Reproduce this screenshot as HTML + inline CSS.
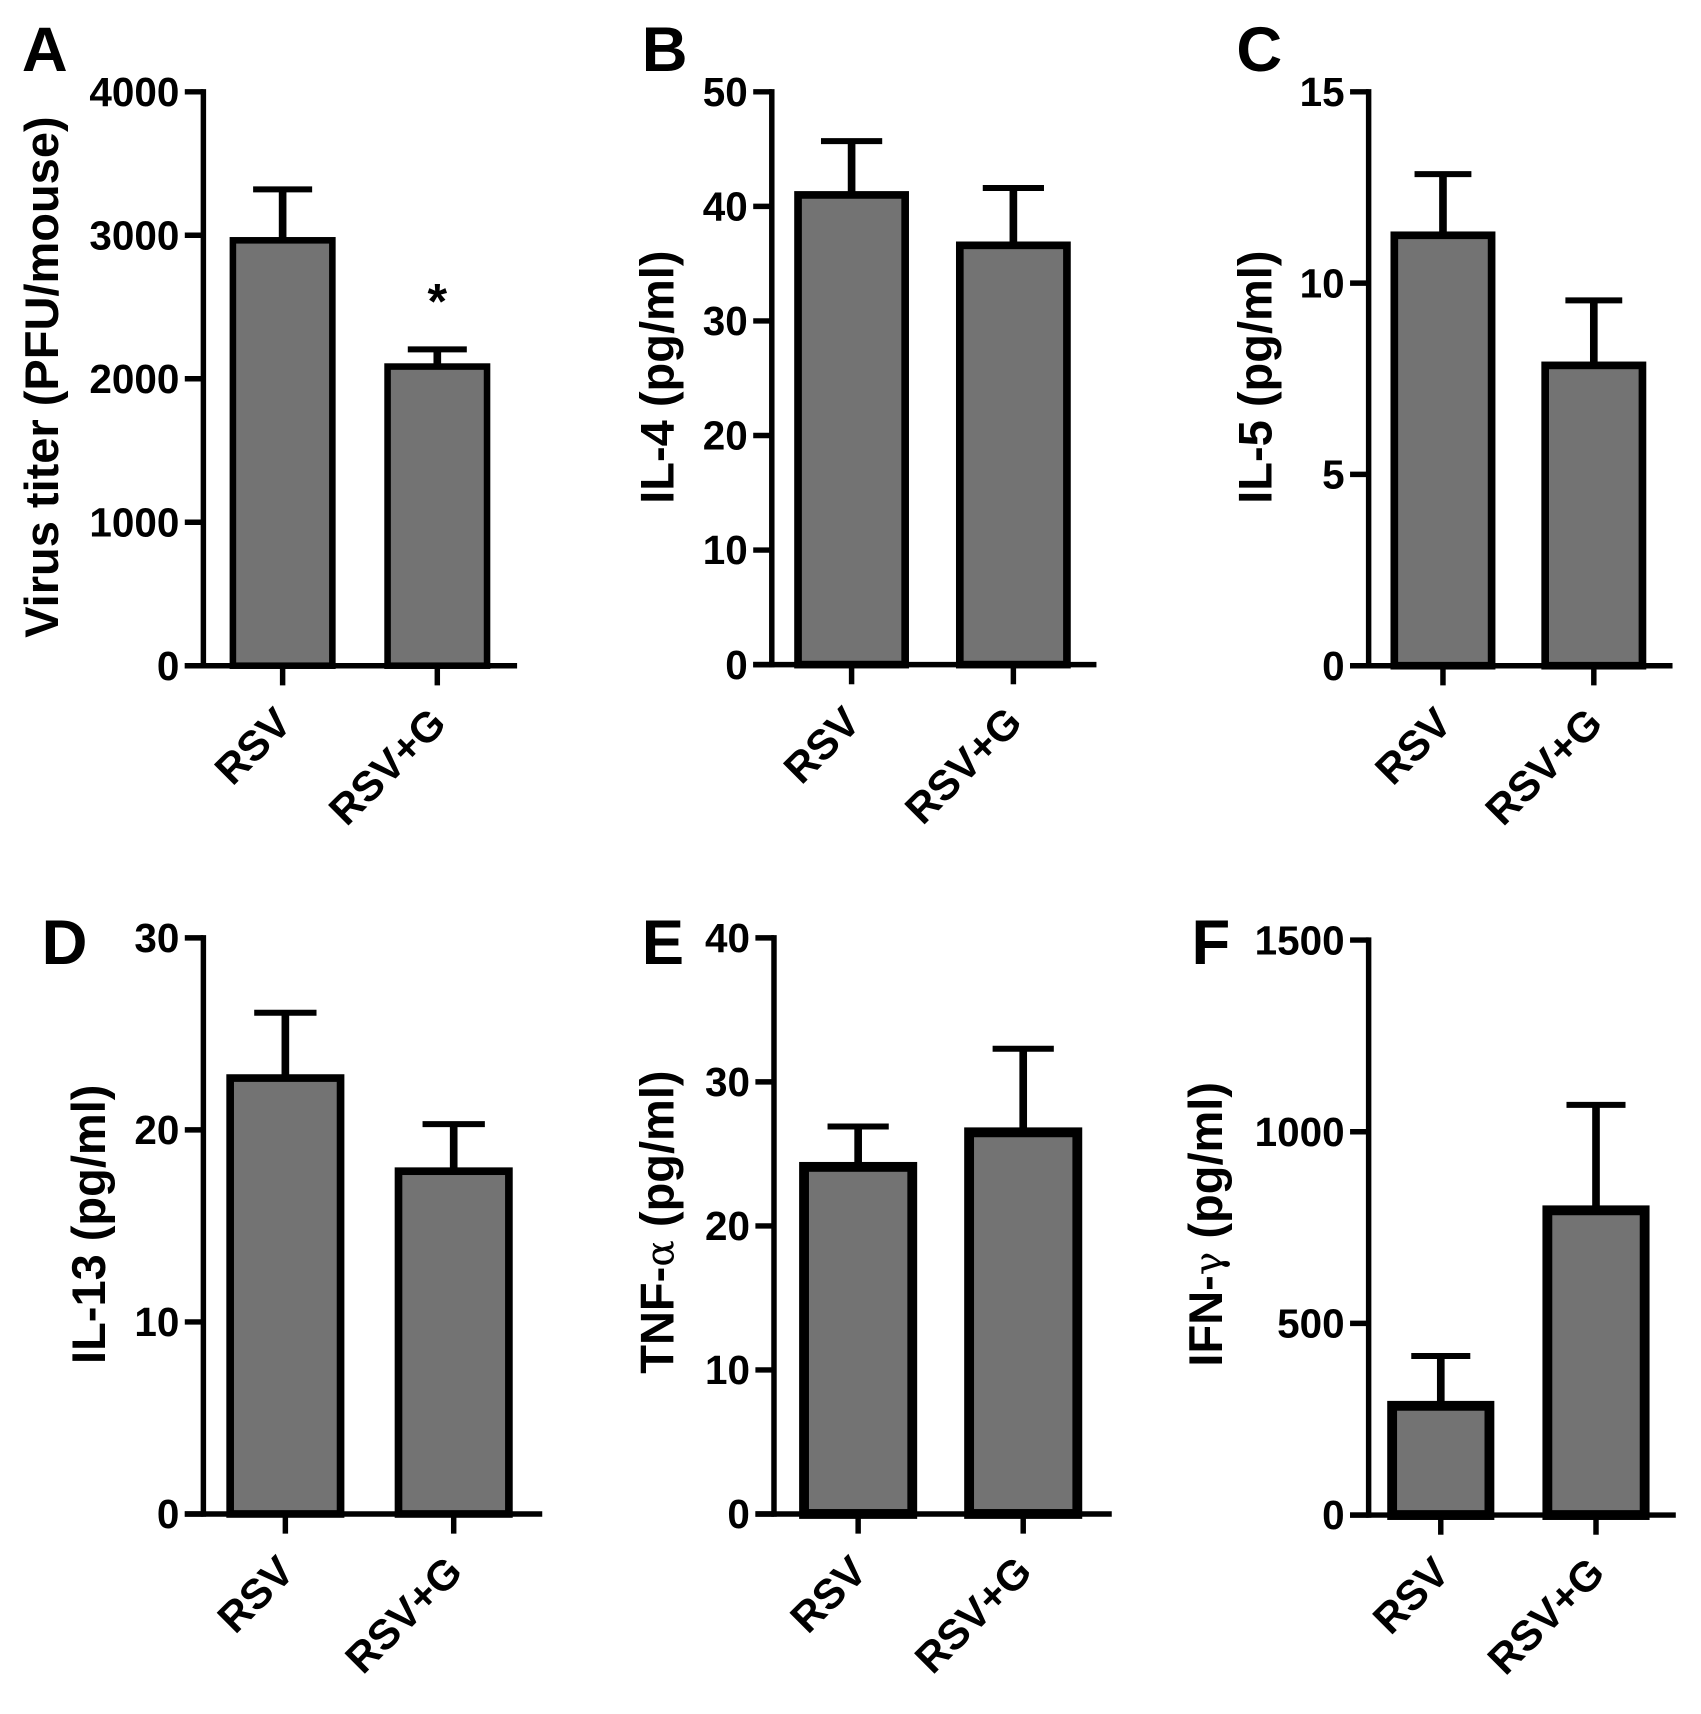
<!DOCTYPE html>
<html>
<head>
<meta charset="utf-8">
<title>RSV cytokine bar charts</title>
<style>
html,body{margin:0;padding:0;background:#fff;}
svg{display:block;}
text{font-family:"Liberation Sans",Arial,sans-serif;font-weight:bold;fill:#000;}
</style>
</head>
<body>
<svg id="figure" xmlns="http://www.w3.org/2000/svg" width="1701" height="1714" viewBox="0 0 1556 1568"></svg>
<script>
const categories = ["RSV", "RSV+G"];
const ticksA = [0, 1000, 2000, 3000, 4000];
const ticksB = [0, 10, 20, 30, 40, 50];
const ticksC = [0, 5, 10, 15];
const ticksD = [0, 10, 20, 30];
const ticksE = [0, 10, 20, 30, 40];
const ticksF = [0, 500, 1000, 1500];
const meansA = [2965, 2085];
const errorsA = [3320, 2205];
const meansB = [41, 36.6];
const errorsB = [45.7, 41.6];
const meansC = [11.25, 7.85];
const errorsC = [12.85, 9.55];
const meansD = [22.7, 17.85];
const errorsD = [26.1, 20.3];
const meansE = [24.1, 26.5];
const errorsE = [26.9, 32.3];
const meansF = [285, 795];
const errorsF = [415, 1070];

const panels = [
  {id:"a", letter:"A", title:"Virus titer (PFU/mouse)", ticks:ticksA, means:meansA, errors:errorsA, star:[false,true],
   ax:186, top:84, bottom:609, right:473, c0:258.5, c1:400, bw:97, sw:6, letterX:20, letterY:65, titleX:53, titleY:345, capW:54},
  {id:"b", letter:"B", title:"IL-4 (pg/ml)", ticks:ticksB, means:meansB, errors:errorsB, star:[false,false],
   ax:706, top:84, bottom:608, right:1003, c0:779, c1:927, bw:105, sw:7, letterX:587, letterY:65, titleX:616, titleY:345, capW:56},
  {id:"c", letter:"C", title:"IL-5 (pg/ml)", ticks:ticksC, means:meansC, errors:errorsC, star:[false,false],
   ax:1252, top:84, bottom:609, right:1530, c0:1320, c1:1458, bw:96, sw:7, letterX:1131, letterY:65, titleX:1163, titleY:345, capW:52},
  {id:"d", letter:"D", title:"IL-13 (pg/ml)", ticks:ticksD, means:meansD, errors:errorsD, star:[false,false],
   ax:186, top:858, bottom:1385, right:496, c0:261, c1:415, bw:108, sw:7, letterX:38, letterY:882, titleX:96, titleY:1120, capW:57},
  {id:"e", letter:"E", title:"TNF-", greek:"α", titleEnd:" (pg/ml)", ticks:ticksE, means:meansE, errors:errorsE, star:[false,false],
   ax:708, top:858, bottom:1385, right:1017, c0:785, c1:936, bw:108, sw:9, letterX:587, letterY:882, titleX:616, titleY:1118, capW:56},
  {id:"f", letter:"F", title:"IFN-", greek:"γ", titleEnd:" (pg/ml)", ticks:ticksF, means:meansF, errors:errorsF, star:[false,false],
   ax:1252, top:860, bottom:1386, right:1533, c0:1318, c1:1460, bw:98, sw:9, letterX:1090, letterY:882, titleX:1118, titleY:1120, capW:54}
];

const NS = "http://www.w3.org/2000/svg";
const svg = document.getElementById("figure");

function make(tag, attrs, parent, txt){
  const el = document.createElementNS(NS, tag);
  for (const k in attrs) el.setAttribute(k, attrs[k]);
  if (txt !== undefined) el.textContent = txt;
  parent.appendChild(el);
  return el;
}
function yScale(p){
  const max = p.ticks[p.ticks.length - 1];
  return v => p.bottom - (v / max) * (p.bottom - p.top);
}
function xScale(p){
  return i => p.c0 + i * (p.c1 - p.c0);
}

panels.forEach(p => {
  const y = yScale(p), x = xScale(p);
  const g = make("g", {}, svg);
  
  

  const letter = make("text", {x:p.letterX, y:p.letterY, "font-size":58}, g, p.letter);
  
  

  const title = make("text", {"font-size":43, "text-anchor":"middle", transform:`translate(${p.titleX},${p.titleY}) rotate(-90)`}, g, p.title);
  
  
  if (p.greek) {
    const gr = make("tspan", {"font-family":"DejaVu Serif, Liberation Serif, serif", "font-weight":"normal", "font-size":36}, title, p.greek);
    
    
    const rest = make("tspan", {}, title, p.titleEnd);
    
    
  }

  p.means.forEach((m, i) => {
    const cx = x(i), half = p.bw / 2 - p.sw / 2;
    const stem = make("line", {x1:cx, x2:cx, y1:y(m), y2:y(p.errors[i]), stroke:"#000", "stroke-width":7}, g);
    
    
    const cap = make("line", {x1:cx - p.capW / 2, x2:cx + p.capW / 2, y1:y(p.errors[i]), y2:y(p.errors[i]), stroke:"#000", "stroke-width":5.5}, g);
    
    
    const bar = make("rect", {x:cx - half, y:y(m), width:half * 2, height:p.bottom - y(m), fill:"#737373", stroke:"#000", "stroke-width":p.sw}, g);
    
    
    if (p.star[i]) {
      const star = make("text", {x:cx, y:y(p.errors[i]) - 28, "font-size":46, "text-anchor":"middle"}, g, "*");
      
      
    }
    const tick = make("line", {x1:cx, x2:cx, y1:p.bottom, y2:p.bottom + 18, stroke:"#000", "stroke-width":5}, g);
    
    
    const tx = cx + 10, ty = p.bottom + 55;
    const lab = make("text", {"font-size":38.5, "text-anchor":"end", transform:`translate(${tx},${ty}) rotate(-45)`}, g, categories[i]);
    
    
  });

  p.ticks.forEach(t => {
    const tk = make("line", {x1:p.ax - 17, x2:p.ax, y1:y(t), y2:y(t), stroke:"#000", "stroke-width":5}, g);
    
    
    const lb = make("text", {x:p.ax - 22, y:y(t) + 13, "font-size":37, "text-anchor":"end"}, g, String(t));
    
    
  });

  const yAxis = make("line", {x1:p.ax, x2:p.ax, y1:p.top - 2.5, y2:p.bottom + 2.5, stroke:"#000", "stroke-width":5}, g);
  
  
  const xAxis = make("line", {x1:p.ax - 17, x2:p.right, y1:p.bottom, y2:p.bottom, stroke:"#000", "stroke-width":5}, g);
  
  
});
</script>
</body>
</html>
